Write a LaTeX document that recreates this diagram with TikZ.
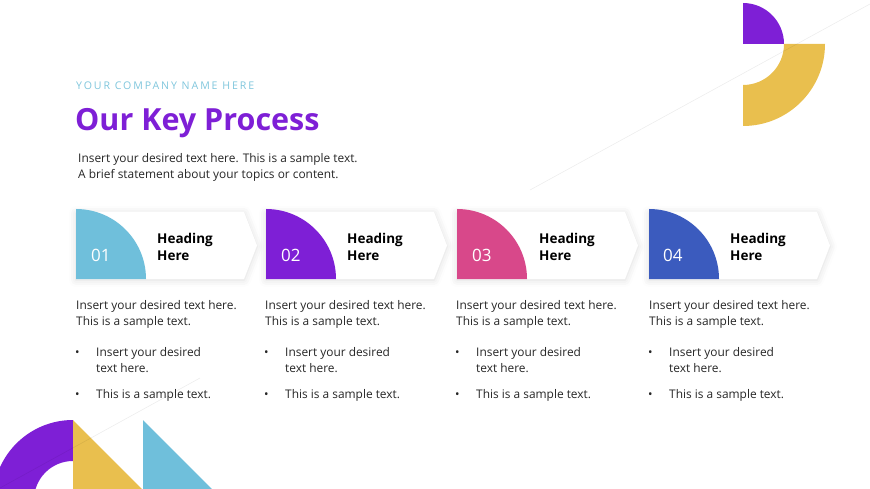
\documentclass[tikz,border=0pt]{standalone}
\usepackage{fontspec}
\setmainfont{Open Sans}
\usetikzlibrary{shadows.blur}
\definecolor{kpBlue}{HTML}{6FBFDB}
\definecolor{kpPurple}{HTML}{7E1FD6}
\definecolor{kpPink}{HTML}{D8488A}
\definecolor{kpNavy}{HTML}{3B5BBE}
\definecolor{kpYellow}{HTML}{E9BF4E}
\definecolor{kpTeal}{HTML}{7FC6DC}
\definecolor{kpText}{HTML}{262626}
\begin{document}
\begin{tikzpicture}[x=1pt, y=-1pt]
    \tikzset{card/.style={fill=white, blur shadow={shadow xshift=0pt, shadow yshift=-1pt, shadow opacity=14, shadow blur radius=7pt}}}
    \tikzset{num/.style={anchor=base west, inner sep=0pt, text=white, font=\fontsize{17}{18}\selectfont}}
    \tikzset{head/.style={anchor=base west, inner sep=0pt, align=left, text=black, font=\fontsize{13.5}{17}\selectfont\bfseries}}
    \tikzset{body/.style={anchor=base west, inner sep=0pt, align=left, text=kpText, font=\fontsize{11.9}{16}\selectfont}}
    \tikzset{bul/.style={anchor=base west, inner sep=0pt, text=kpText, font=\fontsize{11.9}{16}\selectfont}}
    \tikzset{faint/.style={draw=black, draw opacity=0.07, line width=0.6pt}}
    \useasboundingbox (0,0) rectangle (870,489);
    \clip (0,0) rectangle (870,489);

    % corner shapes
    \fill[kpPurple] (743,44) -- (784,44) arc[start angle=0, end angle=-90, radius=41] -- cycle;
    \fill[kpYellow] (825,44) arc[start angle=0, end angle=90, radius=82] -- (743,85) arc[start angle=90, end angle=0, radius=41] -- cycle;
    \fill[kpPurple] (73,420) arc[start angle=-90, end angle=-180, radius=80] -- (34,500) arc[start angle=180, end angle=270, radius=39] -- cycle;
    \fill[kpYellow] (73,420) -- (143,490) -- (73,490) -- cycle;
    \fill[kpBlue] (143,420) -- (213,490) -- (143,490) -- cycle;

    % faint background lines
    \path[faint] (530,190) -- (870,4);
    \path[faint] (0,488) -- (200,378);

    % title block
    \node[anchor=base west, inner sep=0pt, text=kpTeal, font=\fontsize{10.6}{11}\selectfont\addfontfeature{LetterSpace=18}] (company) at (76,90) {YOUR COMPANY NAME HERE};
    \node[anchor=base west, inner sep=0pt, text=kpPurple, font=\fontsize{30.5}{32}\selectfont\bfseries] (title) at (75,131) {Our Key Process};
    % multi-line nodes sit on their last baseline
    \node[body, font=\fontsize{11.9}{15.5}\selectfont] (intro) at (78,178.5) {Insert your desired text here. This is a sample text.\\A brief statement about your topics or content.};

    % cards
    \path[card] (76,212) -- (244,212) -- (257,245.5) -- (244,279) -- (76,279) -- cycle;
    \path[card] (266,212) -- (434,212) -- (447,245.5) -- (434,279) -- (266,279) -- cycle;
    \path[card] (457,212) -- (625,212) -- (638,245.5) -- (625,279) -- (457,279) -- cycle;
    \path[card] (649,212) -- (817,212) -- (830,245.5) -- (817,279) -- (649,279) -- cycle;

    \fill[kpBlue] (76,279) -- (76,209) arc[start angle=-90, end angle=0, radius=70] -- cycle;
    \fill[kpPurple] (266,279) -- (266,209) arc[start angle=-90, end angle=0, radius=70] -- cycle;
    \fill[kpPink] (457,279) -- (457,209) arc[start angle=-90, end angle=0, radius=70] -- cycle;
    \fill[kpNavy] (649,279) -- (649,209) arc[start angle=-90, end angle=0, radius=70] -- cycle;

    \node[num] (num1) at (91,261.5) {01};
    \node[num] (num2) at (281,261.5) {02};
    \node[num] (num3) at (472,261.5) {03};
    \node[num] (num4) at (663,261.5) {04};

    \node[head] (head1) at (157,260) {Heading\\Here};
    \node[head] (head2) at (347,260) {Heading\\Here};
    \node[head] (head3) at (539,260) {Heading\\Here};
    \node[head] (head4) at (730,260) {Heading\\Here};

    % texts below the cards
    \node[body] (body1) at (76,325.5) {Insert your desired text here.\\This is a sample text.};
    \node[body] (body2) at (265,325.5) {Insert your desired text here.\\This is a sample text.};
    \node[body] (body3) at (456,325.5) {Insert your desired text here.\\This is a sample text.};
    \node[body] (body4) at (649,325.5) {Insert your desired text here.\\This is a sample text.};

    \node[bul] (dotA1) at (75,356.5) {•};
    \node[bul] (dotA2) at (264,356.5) {•};
    \node[bul] (dotA3) at (455,356.5) {•};
    \node[bul] (dotA4) at (648,356.5) {•};
    \node[bul] (dotB1) at (75,398.5) {•};
    \node[bul] (dotB2) at (264,398.5) {•};
    \node[bul] (dotB3) at (455,398.5) {•};
    \node[bul] (dotB4) at (648,398.5) {•};

    \node[body] (itemA1) at (96,372.5) {Insert your desired\\text here.};
    \node[body] (itemA2) at (285,372.5) {Insert your desired\\text here.};
    \node[body] (itemA3) at (476,372.5) {Insert your desired\\text here.};
    \node[body] (itemA4) at (669,372.5) {Insert your desired\\text here.};
    \node[body] (itemB1) at (96,398.5) {This is a sample text.};
    \node[body] (itemB2) at (285,398.5) {This is a sample text.};
    \node[body] (itemB3) at (476,398.5) {This is a sample text.};
    \node[body] (itemB4) at (669,398.5) {This is a sample text.};
  \end{tikzpicture}
\end{document}
